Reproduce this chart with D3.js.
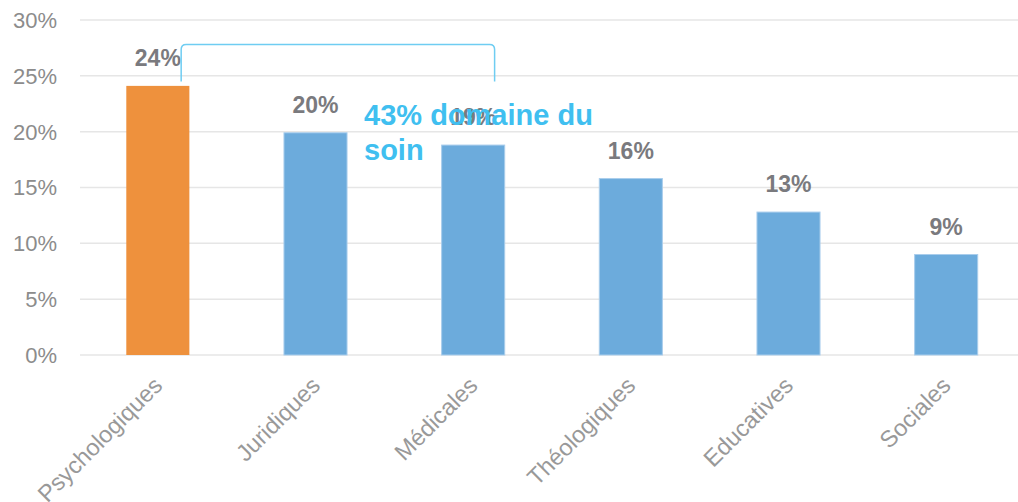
<!DOCTYPE html>
<html>
<head>
<meta charset="utf-8">
<script src="https://cdn.jsdelivr.net/npm/d3@7"></script>
<style>
  body { margin: 0; background: #fff; }
  svg { display: block; font-family: Arial, "Liberation Sans", sans-serif; }
</style>
</head>
<body>
<div class="chart"></div>
<script>
// data
var categories = ["Psychologiques", "Juridiques", "Médicales", "Théologiques", "Educatives", "Sociales"];
var values = [0.241, 0.199, 0.188, 0.158, 0.128, 0.090];
var valueLabels = ["24%", "20%", "19%", "16%", "13%", "9%"];
var yTicks = [0, 0.05, 0.10, 0.15, 0.20, 0.25, 0.30];
var highlight = "Psychologiques";
var noteLines = ["43% domaine du", "soin"];
var bracketFrom = "Psychologiques", bracketTo = "Médicales";

var width = 1018, height = 502;

var svg = d3.select(".chart").append("svg")
  .attr("width", width)
  .attr("height", height);

// scales
var x = d3.scaleBand()
  .domain(categories)
  .range([79, 1025])
  .paddingInner(0.6)
  .paddingOuter(0.3);

var y = d3.scaleLinear()
  .domain([0, 0.30])
  .range([355, 20]);

// gridlines
svg.append("g").selectAll("line")
  .data(yTicks)
  .enter().append("line")
  .attr("x1", 80)
  .attr("x2", width)
  .attr("y1", function(d) { return y(d); })
  .attr("y2", function(d) { return y(d); })
  .attr("stroke", "#e6e6e6")
  .attr("stroke-width", 1.5);

// y axis labels
svg.append("g").selectAll("text")
  .data(yTicks)
  .enter().append("text")
  .attr("x", 57)
  .attr("y", function(d) { return y(d); })
  .attr("dy", "0.36em")
  .attr("text-anchor", "end")
  .attr("fill", "#8c8c8c")
  .style("font-size", "22px")
  .text(d3.format(".0%"));

// bars
svg.append("g").selectAll("rect")
  .data(values)
  .enter().append("rect")
  .attr("x", function(d, i) { return x(categories[i]); })
  .attr("y", function(d) { return y(d); })
  .attr("width", x.bandwidth())
  .attr("height", function(d) { return y(0) - y(d); })
  .attr("fill", function(d, i) { return categories[i] === highlight ? "#ee913d" : "#6cabdc"; })
  .attr("stroke", function(d, i) { return categories[i] === highlight ? "none" : "#a9cdec"; })
  .attr("stroke-width", 1);

// x axis labels, rotated
svg.append("g").selectAll("text")
  .data(categories)
  .enter().append("text")
  .attr("transform", function(d) {
    return "translate(" + (x(d) + x.bandwidth() / 2 + 6) + ",387) rotate(-45)";
  })
  .attr("text-anchor", "end")
  .attr("fill", "#999999")
  .style("font-size", "23.5px")
  .text(function(d) { return d; });

// value labels
svg.append("g").selectAll("text")
  .data(values)
  .enter().append("text")
  .attr("x", function(d, i) { return x(categories[i]) + x.bandwidth() / 2; })
  .attr("y", function(d) { return y(d) - 20; })
  .attr("text-anchor", "middle")
  .attr("fill", "#7a7a7e")
  .style("font-size", "23px")
  .style("font-weight", "bold")
  .text(function(d, i) { return valueLabels[i]; });

// bracket over the "soin" group
var bx0 = x(bracketFrom) + x.bandwidth() * 0.87;
var bx1 = x(bracketTo) + x.bandwidth() * 0.84;
var by0 = y(0.245), by1 = y(0.278), r = 5;
svg.append("path")
  .attr("d", "M" + bx0 + "," + by0 +
    "L" + bx0 + "," + (by1 + r) +
    "Q" + bx0 + "," + by1 + " " + (bx0 + r) + "," + by1 +
    "L" + (bx1 - r) + "," + by1 +
    "Q" + bx1 + "," + by1 + " " + bx1 + "," + (by1 + r) +
    "L" + bx1 + "," + by0)
  .attr("fill", "none")
  .attr("stroke", "#6fcdf2")
  .attr("stroke-width", 1.5);

// annotation, on top of the "19%" label like the original
var noteX = x("Juridiques") + x.bandwidth() + 17;
var note = svg.append("text")
  .attr("x", noteX)
  .attr("y", y(0.206))
  .attr("fill", "#40bff0")
  .style("font-size", "29px")
  .style("font-weight", "bold");

note.selectAll("tspan")
  .data(noteLines)
  .enter().append("tspan")
  .attr("x", noteX)
  .attr("dy", function(d, i) { return i === 0 ? 0 : 35; })
  .text(function(d) { return d; });
</script>
</body>
</html>
